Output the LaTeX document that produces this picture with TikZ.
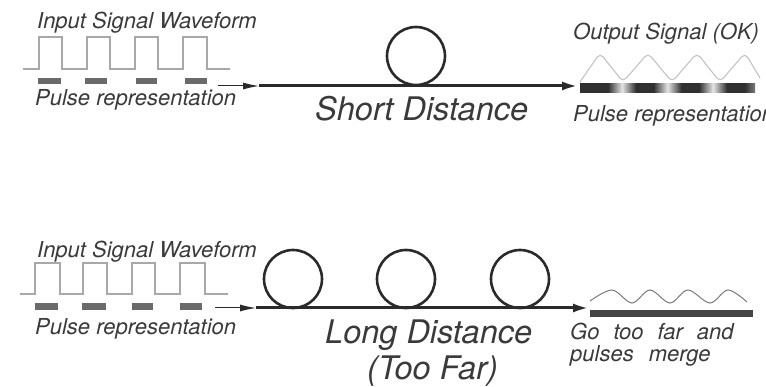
\documentclass[tikz,border=0pt]{standalone}
\usepackage{fontspec}
\setmainfont{TeX Gyre Heros}
\usetikzlibrary{arrows.meta}
\definecolor{txt}{HTML}{3A3A3A}
\definecolor{ink}{HTML}{2A2A2A}
\definecolor{wave}{HTML}{A8A8A8}
\definecolor{owave}{HTML}{C4C4C4}
\definecolor{pulse}{HTML}{6A6A6A}
\definecolor{barD}{HTML}{303030}
\definecolor{barL}{HTML}{E4E4E4}
\definecolor{barM}{HTML}{7A7A7A}
\pgfdeclarehorizontalshading{okbar}{100bp}{color(0bp)=(barD); color(25bp)=(barD); color(33bp)=(barD); color(37bp)=(barL); color(41bp)=(barD); color(46bp)=(barD); color(50bp)=(barL); color(54bp)=(barD); color(59bp)=(barD); color(63bp)=(barL); color(67bp)=(barD); color(72bp)=(barD); color(75bp)=(barM); color(100bp)=(barM)}
\tikzset{
  lbl/.style={anchor=base west, inner sep=0pt, text=txt, font=\fontsize{22}{26}\selectfont\itshape},
  big/.style={anchor=base west, inner sep=0pt, text=txt, font=\fontsize{32.5}{38}\selectfont\itshape},
  sq/.style={draw=wave, line width=1.1pt},
  pulsebox/.style={fill=pulse, draw=none},
  lead/.style={draw=ink, line width=1pt, -{Latex[length=16pt,width=7pt]}},
  fiber/.style={draw=ink, line width=3pt, -{Latex[length=16pt,width=9pt]}},
  fibloop/.style={circle, draw=ink, line width=2.6pt, minimum size=58pt, inner sep=0pt},
}
\begin{document}
\begin{tikzpicture}[x=1pt,y=-1pt]
\useasboundingbox[fill=white] (0,0) rectangle (766,387);

% ---------- top row ----------
\node[lbl] (inTop) at (37,29) {Input Signal Waveform};
\draw[sq] (23,69) -- (39,69) -- (39,37) -- (62,37) -- (62,69) -- (87,69) -- (87,37) -- (110,37) -- (110,69) -- (135,69) -- (135,37) -- (158,37) -- (158,69) -- (183,69) -- (183,37) -- (207,37) -- (207,69) -- (230,69);
\fill[pulsebox] (38,78) rectangle (61,84);
\fill[pulsebox] (85,78) rectangle (107,84);
\fill[pulsebox] (136,78) rectangle (157,84);
\fill[pulsebox] (185,78) rectangle (207,84);
\node[lbl] (prTop) at (35,106) {Pulse representation};

\coordinate (leadTopA) at (218,86);
\coordinate (leadTopB) at (259,86);
\coordinate (fibTopE) at (578,86);
\node[fibloop] (loopTop) at (416,56) {};
\draw[fiber] (leadTopB) -- (fibTopE);
\draw[lead] (leadTopA) -- (leadTopB);
\node[big] (short) at (315,121) {Short Distance};

\node[lbl] (outTop) at (573,40) {Output Signal (OK)};
\draw[draw=owave, line width=1.1pt, rounded corners=5pt] (580,82) -- (600,53) -- (623,82) -- (648,53) -- (672,82) -- (697,53) -- (720,82) -- (745,53) -- (760,78);
\shade[shading=okbar] (580,84) rectangle (755,93);
\node[lbl] (prOut) at (573,122) {Pulse representation};

% ---------- bottom row ----------
\node[lbl] (inBot) at (37,258) {Input Signal Waveform};
\draw[sq] (20,294) -- (35,294) -- (35,263) -- (60,263) -- (60,294) -- (83,294) -- (83,263) -- (107,263) -- (107,294) -- (132,294) -- (132,263) -- (155,263) -- (155,294) -- (180,294) -- (180,263) -- (205,263) -- (205,294) -- (228,294);
\fill[pulsebox] (35,303) rectangle (58,310);
\fill[pulsebox] (82,303) rectangle (106,310);
\fill[pulsebox] (132,303) rectangle (153,310);
\fill[pulsebox] (180,303) rectangle (202,310);
\node[lbl] (prBot) at (35,335) {Pulse representation};

\coordinate (leadBotA) at (215,308);
\coordinate (leadBotB) at (256,308);
\coordinate (fibBotE) at (589,308);
\node[fibloop] (loopA) at (293,279) {};
\node[fibloop] (loopB) at (406,279) {};
\node[fibloop] (loopC) at (520,279) {};
\draw[fiber] (leadBotB) -- (fibBotE);
\draw[lead] (leadBotA) -- (leadBotB);
\node[big] (long) at (325,344) {Long Distance};
\node[big] (toofar) at (367,380) {(Too Far)};

\draw[draw=barM, line width=1pt] plot[smooth, tension=0.55] coordinates {(590,301) (612,290) (632,303) (650,290) (670,303) (688,290) (710,303) (728,290) (747,302)};
\fill[barD!90!white] (590,310) rectangle (753,317);
\node[lbl] (go1) at (570,340) {Go\hspace{14pt}too\hspace{14pt}far\hspace{14pt}and};
\node[lbl] (go2) at (570,362) {pulses\hspace{15pt}merge};
\end{tikzpicture}
\end{document}
